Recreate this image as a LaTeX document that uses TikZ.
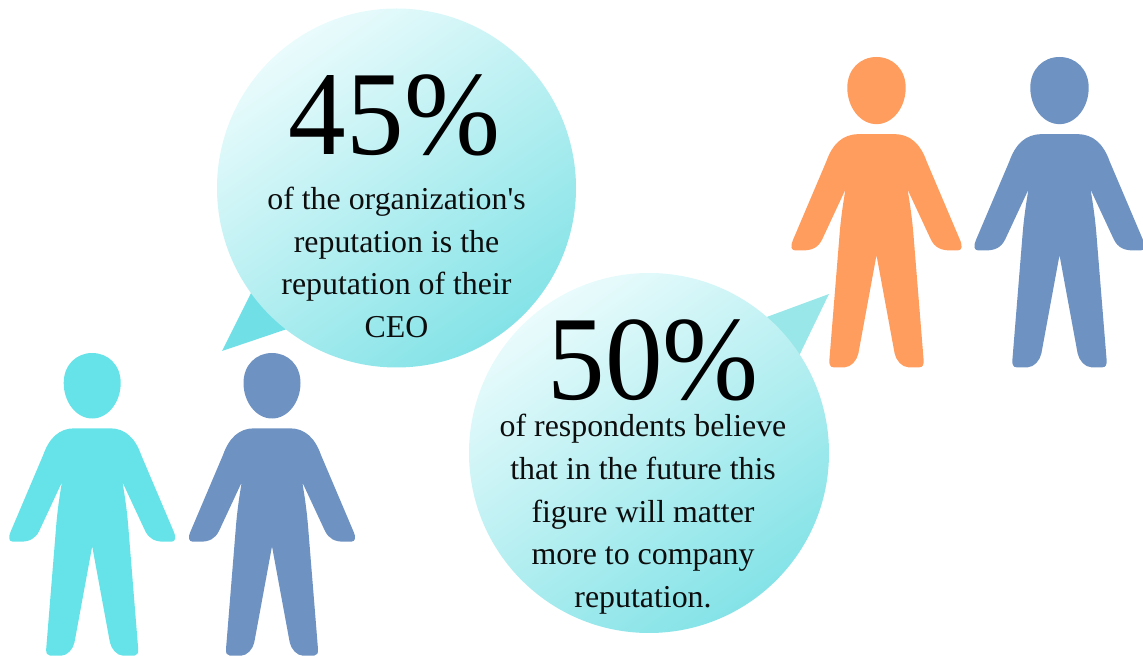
\documentclass[tikz,border=0pt]{standalone}
\usepackage{fontspec}
\setmainfont{Liberation Serif}
\newfontfamily\plainserif{Liberation Serif}
\definecolor{cyanp}{HTML}{66E3E8}
\definecolor{bluep}{HTML}{6E92C2}
\definecolor{orangep}{HTML}{FF9D5F}
\definecolor{bubL}{HTML}{EAFBFC}
\definecolor{bubD}{HTML}{84E3E7}
\definecolor{tailA}{HTML}{70E0E6}
\definecolor{tailB}{HTML}{9AE7E9}
\tikzset{
  person/.pic={
    \fill[pic actions] (0,0) .. controls (16,0) and (28.5,12) .. (28.5,30)
      .. controls (28.5,49) and (16,65.5) .. (0,65.5)
      .. controls (-16,65.5) and (-28.5,49) .. (-28.5,30)
      .. controls (-28.5,12) and (-16,0) .. (0,0) -- cycle;
    \fill[pic actions] (-17.7,75.3) -- (17.7,75.3)
      .. controls (33,75.3) and (43,85) .. (49,102)
      -- (81.7,179) .. controls (84,184) and (83.5,188.7) .. (79.3,188.7)
      -- (72,188.7) .. controls (63,188.7) and (57,186) .. (53,178)
      -- (30.3,129.3) .. controls (33,145) and (35,160) .. (36,172.7)
      -- (46,296) .. controls (46.3,300) and (45,302.7) .. (42,302.7)
      -- (31,302.7) .. controls (25,302.7) and (19,296) .. (17.7,289.3)
      -- (0,193.3)
      -- (-17.7,289.3) .. controls (-19,296) and (-25,302.7) .. (-31,302.7)
      -- (-42,302.7) .. controls (-45,302.7) and (-46.3,300) .. (-46,296)
      -- (-36,172.7) .. controls (-35,160) and (-33,145) .. (-30.3,129.3)
      -- (-53,178) .. controls (-57,186) and (-63,188.7) .. (-72,188.7)
      -- (-79.3,188.7) .. controls (-83.5,188.7) and (-84,184) .. (-81.7,179)
      -- (-49,102) .. controls (-43,85) and (-33,75.3) .. (-17.7,75.3) -- cycle;
  },
  bubble/.style={circle,minimum size=#1,inner sep=0pt,outer sep=0pt,
    top color=bubL,bottom color=bubD,shading angle=35},
  bigpct/.style={inner sep=0pt,anchor=base,xscale=0.96,font=\fontsize{90}{90}\selectfont,text=black},
  blurb/.style={inner sep=0pt,align=center,text=black!95,
    font=\fontsize{23.9}{32}\selectfont},
}
\begin{document}
\begin{tikzpicture}[x=0.75pt,y=-0.75pt]
\useasboundingbox (0,0) rectangle (1143,659);
% tails
\fill[tailA] (252,291) -- (222,351) -- (290,328) -- cycle;
\fill[tailB] (764,318) -- (829,294) -- (798,358) -- cycle;
% bubbles
\node[bubble=269.25pt] (b1) at (396.5,188) {};
\node[bubble=270pt] (b2) at (649,453) {};
% people
\path pic[fill=cyanp] at (92.2,353) {person};
\path pic[fill=bluep] at (272,353) {person};
\path pic[fill=orangep,scale=1.025] at (876.5,57) {person};
\path pic[fill=bluep,scale=1.025] at (1059.5,57) {person};
% text
\node[bigpct] (p1) at (394.5,154.5) {45\%};
\node[blurb] (t1) at (396.5,262.5) {of the organization{\plainserif '}s\\reputation is the\\reputation of their\\CEO};
\node[bigpct] (p2) at (653,399) {50\%};
\node[blurb] (t2) at (643,514.5) {of respondents believe\\that in the future this\\figure will matter\\more to company\\reputation.};
\end{tikzpicture}
\end{document}
